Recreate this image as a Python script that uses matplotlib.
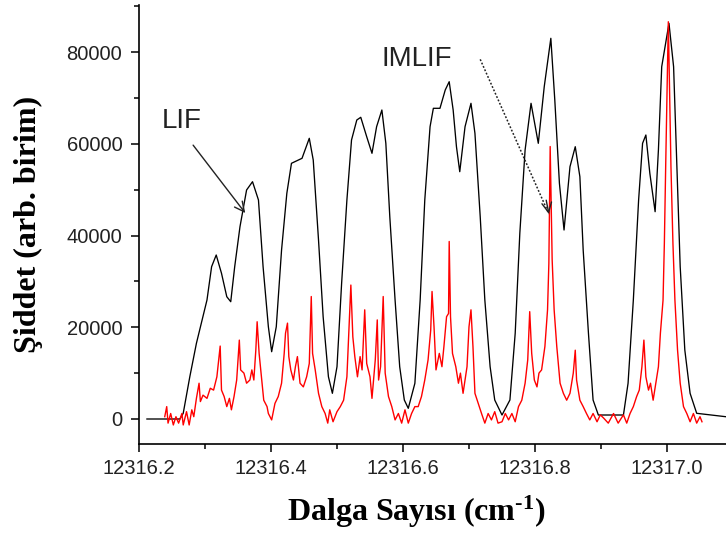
import matplotlib
matplotlib.use("Agg")
import matplotlib.pyplot as plt
from matplotlib.ticker import MultipleLocator, FormatStrFormatter

# ---------------- data ----------------
lif_x = [12316.212, 12316.262, 12316.267, 12316.277, 12316.287, 12316.303, 12316.310, 12316.317,
         12316.325, 12316.333, 12316.339, 12316.345, 12316.353, 12316.363, 12316.372, 12316.381,
         12316.388, 12316.396, 12316.401, 12316.408, 12316.416, 12316.424, 12316.431, 12316.447,
         12316.458, 12316.464, 12316.472, 12316.479, 12316.487, 12316.493, 12316.500, 12316.507,
         12316.515, 12316.522, 12316.530, 12316.536, 12316.545, 12316.553, 12316.560, 12316.568,
         12316.574, 12316.580, 12316.588, 12316.595, 12316.602, 12316.608, 12316.618, 12316.626,
         12316.633, 12316.641, 12316.646, 12316.656, 12316.664, 12316.670, 12316.676, 12316.681,
         12316.686, 12316.694, 12316.703, 12316.709, 12316.717, 12316.724, 12316.732, 12316.739,
         12316.750, 12316.762, 12316.770, 12316.777, 12316.785, 12316.794, 12316.805, 12316.814,
         12316.824, 12316.830, 12316.837, 12316.844, 12316.853, 12316.861, 12316.868, 12316.873,
         12316.881, 12316.888, 12316.896, 12316.934, 12316.941, 12316.949, 12316.957, 12316.963,
         12316.968, 12316.974, 12316.982, 12316.987, 12316.992, 12317.003, 12317.010, 12317.015,
         12317.020, 12317.027, 12317.035, 12317.045, 12317.089]
lif_y = [0, 0, 1240, 9220, 16500, 25940, 33200, 35750,
         31760, 26660, 25570, 33200, 41920, 49920, 51730, 47740,
         33200, 20120, 14670, 20120, 36840, 49200, 55740, 56830,
         61190, 56460, 39020, 22300, 9220, 5600, 11400, 29580,
         47740, 60820, 65180, 65770, 61540, 57920, 63720, 67360,
         60100, 44100, 25940, 11400, 4140, 2330, 7780, 25940,
         47740, 63720, 67730, 67730, 71720, 73530, 67360, 59360,
         53910, 63720, 68820, 62280, 44100, 25940, 11400, 4140,
         870, 4140, 18680, 40480, 58640, 68820, 60100, 72440,
         82990, 69540, 51380, 41200, 55000, 59360, 52820, 36840,
         18680, 4140, 870, 870, 7780, 25940, 47740, 60100,
         61910, 53560, 45190, 58640, 76800, 86260, 76800, 55000,
         33200, 15040, 5600, 1240, 500]

imlif_x = [12316.239, 12316.242, 12316.244, 12316.248, 12316.252, 12316.256, 12316.260, 12316.265,
           12316.267, 12316.272, 12316.276, 12316.280, 12316.283, 12316.287, 12316.291, 12316.293,
           12316.297, 12316.303, 12316.308, 12316.313, 12316.318, 12316.323, 12316.325, 12316.329,
           12316.333, 12316.337, 12316.340, 12316.344, 12316.348, 12316.352, 12316.354, 12316.359,
           12316.363, 12316.368, 12316.371, 12316.374, 12316.377, 12316.379, 12316.382, 12316.386,
           12316.389, 12316.394, 12316.396, 12316.401, 12316.406, 12316.411, 12316.416, 12316.420,
           12316.422, 12316.425, 12316.427, 12316.430, 12316.434, 12316.437, 12316.440, 12316.444,
           12316.449, 12316.454, 12316.458, 12316.461, 12316.463, 12316.467, 12316.472, 12316.477,
           12316.482, 12316.486, 12316.489, 12316.494, 12316.500, 12316.505, 12316.510, 12316.515,
           12316.518, 12316.521, 12316.524, 12316.527, 12316.531, 12316.535, 12316.538, 12316.542,
           12316.545, 12316.550, 12316.553, 12316.558, 12316.561, 12316.563, 12316.566, 12316.570,
           12316.573, 12316.578, 12316.583, 12316.588, 12316.593, 12316.598, 12316.603, 12316.608,
           12316.613, 12316.618, 12316.623, 12316.628, 12316.633, 12316.638, 12316.642, 12316.644,
           12316.647, 12316.650, 12316.655, 12316.659, 12316.662, 12316.666, 12316.669, 12316.670,
           12316.672, 12316.675, 12316.680, 12316.684, 12316.687, 12316.691, 12316.697, 12316.700,
           12316.703, 12316.706, 12316.709, 12316.714, 12316.719, 12316.724, 12316.729, 12316.734,
           12316.739, 12316.744, 12316.750, 12316.755, 12316.760, 12316.765, 12316.770, 12316.775,
           12316.780, 12316.785, 12316.789, 12316.792, 12316.795, 12316.799, 12316.803, 12316.806,
           12316.810, 12316.815, 12316.819, 12316.821, 12316.823, 12316.826, 12316.829, 12316.833,
           12316.838, 12316.843, 12316.848, 12316.853, 12316.858, 12316.861, 12316.863, 12316.868,
           12316.873, 12316.878, 12316.883, 12316.888, 12316.894, 12316.899, 12316.904, 12316.911,
           12316.919, 12316.926, 12316.934, 12316.939, 12316.944, 12316.949, 12316.954, 12316.958,
           12316.962, 12316.965, 12316.968, 12316.972, 12316.975, 12316.979, 12316.983, 12316.987,
           12316.990, 12316.994, 12316.996, 12316.998, 12317.002, 12317.006, 12317.009, 12317.012,
           12317.016, 12317.020, 12317.025, 12317.030, 12317.035, 12317.040, 12317.045, 12317.050,
           12317.053]
imlif_y = [500, 2700, -900, 1200, -1300, 500, -900, 1200,
           -1300, 1600, -1300, 2000, 500, 4500, 7800, 3800,
           5200, 4500, 6700, 6300, 9200, 15900, 6300, 4900,
           2700, 4500, 2000, 4900, 8500, 17200, 10700, 10000,
           7800, 8500, 10700, 8500, 15000, 21200, 14300, 8500,
           4100, 2700, 1200, -200, 3400, 4900, 7800, 14300,
           18700, 20900, 13600, 10700, 8500, 11400, 13600, 7800,
           7000, 9200, 12100, 26700, 14300, 10700, 5600, 2700,
           1200, -900, 2000, -600, 1600, 2700, 4100, 9200,
           19400, 29200, 17900, 13600, 9200, 13600, 10700, 23800,
           12100, 9200, 4500, 12900, 21600, 8500, 11400, 26700,
           10000, 4900, 2700, -200, 1200, -900, 2000, -900,
           1200, 2700, 2700, 4900, 8500, 12900, 19400, 27800,
           20100, 10700, 14300, 11400, 15800, 22300, 23000, 38700,
           22300, 14300, 11400, 7800, 10000, 5600, 11400, 20100,
           23800, 15800, 5600, 3400, 1200, -900, 1200, -200,
           1600, -900, -600, 1200, -200, 1200, -600, 2700,
           4100, 7800, 12900, 23400, 14300, 8500, 7000, 10000,
           10700, 15800, 23800, 33900, 59400, 34700, 23800, 15800,
           7800, 5600, 4100, 5600, 10000, 15000, 8500, 4100,
           2700, 1200, -200, 1200, -600, 900, 200, -900,
           1200, -900, 900, -900, 1200, 2700, 4900, 6300,
           11400, 17200, 9200, 6300, 7800, 4100, 7800, 11400,
           18700, 25900, 38300, 55000, 86600, 55000, 38300, 25900,
           15000, 7800, 2700, 1200, -600, 1200, -900, 500,
           -600]

x_major_ticks = [12316.2, 12316.4, 12316.6, 12316.8, 12317.0]
y_major_ticks = [0, 20000, 40000, 60000, 80000]

label_lif = "LIF"
label_imlif = "IMLIF"
x_title = r"Dalga Sayısı (cm$^{\text{-1}}$)"
y_title = "Şiddet (arb. birim)"

# annotation anchors (data coords)
lif_text_pos = (12316.234, 63400)
lif_arrow_tail = (12316.282, 59700)
lif_arrow_head = (12316.361, 44900)
imlif_text_pos = (12316.568, 77000)
imlif_arrow_tail = (12316.717, 78400)
imlif_arrow_head = (12316.821, 44700)

# ---------------- figure ----------------
plt.rcParams['mathtext.fontset'] = 'custom'
plt.rcParams['mathtext.rm'] = 'Liberation Serif:bold'
plt.rcParams['mathtext.it'] = 'Liberation Serif:bold'
plt.rcParams['mathtext.bf'] = 'Liberation Serif:bold'

fig = plt.figure(figsize=(7.26, 5.36), dpi=100)
ax = fig.add_axes([139 / 726, 1 - 444 / 536, 587 / 726, 439 / 536])

ax.plot(lif_x, lif_y, color='black', lw=0.95, zorder=2)
ax.plot(imlif_x, imlif_y, color='#ff0000', lw=1.0, zorder=3)

ax.set_xlim(12316.2, 12317.0894)
ax.set_ylim(-5450, 90250)

for s in ['top', 'right']:
    ax.spines[s].set_visible(False)
for s in ['left', 'bottom']:
    ax.spines[s].set_linewidth(1.2)
    ax.spines[s].set_color('black')

ax.set_xticks(x_major_ticks)
ax.xaxis.set_minor_locator(MultipleLocator(0.1))
ax.xaxis.set_major_formatter(FormatStrFormatter('%.1f'))
ax.set_yticks(y_major_ticks)
ax.yaxis.set_minor_locator(MultipleLocator(10000))
ax.yaxis.set_major_formatter(FormatStrFormatter('%d'))

ax.tick_params(axis='both', which='major', direction='out', length=6, width=1.1,
               labelsize=14.5, colors='black', labelcolor='#222222')
ax.tick_params(axis='both', which='minor', direction='out', length=3.5, width=1.1)
ax.tick_params(axis='x', which='major', pad=5)
ax.tick_params(axis='y', which='major', pad=6)
for lab in ax.get_xticklabels() + ax.get_yticklabels():
    lab.set_fontfamily('Liberation Sans')

# annotations
ax.text(lif_text_pos[0], lif_text_pos[1], label_lif, fontsize=20, family='Liberation Sans',
        color='#222222', ha='left', va='baseline')
ax.text(imlif_text_pos[0], imlif_text_pos[1], label_imlif, fontsize=20, family='Liberation Sans',
        color='#222222', ha='left', va='baseline')
ax.annotate('', xy=lif_arrow_head, xytext=lif_arrow_tail,
            arrowprops=dict(arrowstyle='->,head_length=0.7,head_width=0.35', color='#222222',
                            lw=1.0, shrinkA=0, shrinkB=0))
ax.plot([imlif_arrow_tail[0], imlif_arrow_head[0]], [imlif_arrow_tail[1], imlif_arrow_head[1]],
        color='#222222', lw=1.1, linestyle=(0, (1.2, 1.2)), zorder=4)
ax.annotate('', xy=imlif_arrow_head,
            xytext=(imlif_arrow_head[0] - 0.004, imlif_arrow_head[1] + 3000),
            arrowprops=dict(arrowstyle='->,head_length=0.7,head_width=0.35', color='#222222',
                            lw=1.0, shrinkA=0, shrinkB=0), zorder=4)

fig.text(416 / 726, 1 - 521.5 / 536, x_title, fontsize=23, fontweight='bold',
         family='Liberation Serif', ha='center', va='baseline')
fig.text(28.5 / 726, 1 - 224 / 536, y_title, fontsize=23, fontweight='bold',
         family='Liberation Serif', ha='center', va='center', rotation=90)

fig.savefig('out.png', dpi=100)
